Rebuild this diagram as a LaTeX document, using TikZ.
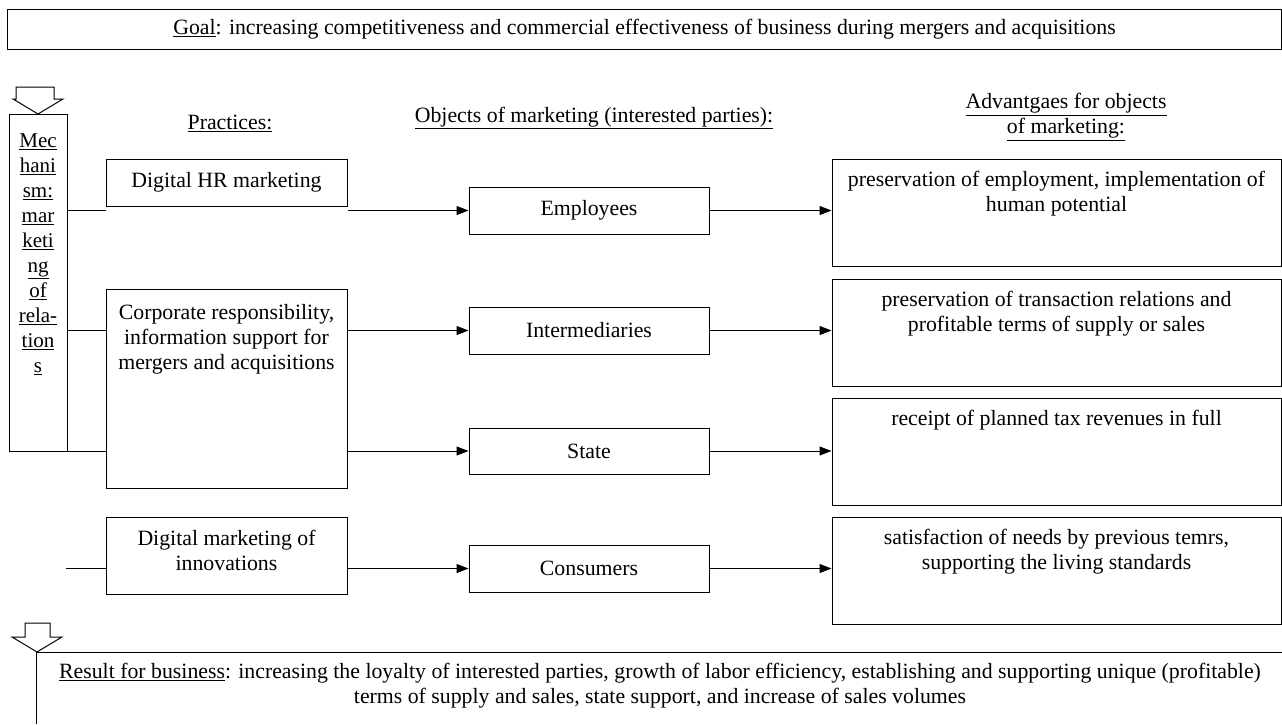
\documentclass[tikz,border=0pt]{standalone}
\usepackage{fontspec}
\setmainfont{Liberation Serif}
\usetikzlibrary{arrows.meta,calc}
\begin{document}
\begin{tikzpicture}[x=1pt,y=-1pt,line width=1pt,
  every node/.style={font=\fontsize{21.8}{25}\selectfont,inner sep=0pt},
  box/.style={draw,line width=1pt},
  arr/.style={-{Triangle[length=12pt,width=9pt]}},
  hollow/.style={draw,line width=1pt,fill=white,line join=miter}]
\useasboundingbox (0,0) rectangle (1282,724);

% goal
\node[box,minimum width=1274pt,minimum height=40pt] (goal) at (644.5,29)
  {\underline{Goal}: increasing competitiveness and commercial effectiveness of business during mergers and acquisitions};

% headers
\node (hprac) at (230,123) {\underline{Practices:}};
\node (hobj) at (594,118) {\underline{Objects of marketing (interested parties):}};
\node[align=center] (hadv) at (1066,117) {\underline{Advantgaes for objects}\\\underline{of marketing:}};

% mechanism
\node[box,minimum width=58pt,minimum height=337pt] (mech) at (38,282.5) {};
\node[anchor=north,align=center,font=\fontsize{21}{25}\selectfont] (mecht) at ($(mech.north)+(0,20)$)
  {\underline{Mec}\\\underline{hani}\\\underline{sm:}\\\underline{mar}\\\underline{keti}\\\underline{ng}\\\underline{of}\\\underline{rela-}\\\underline{tion}\\\underline{s}};
\draw[hollow] (16,87) -- (54,87) -- (54,99) -- (63,99) -- (38,114) -- (13,99) -- (16,99) -- cycle;

% practices
\node[box,minimum width=241pt,minimum height=47pt] (hr) at (226.5,182.5) {Digital HR marketing};
\node[box,minimum width=241pt,minimum height=199pt] (corp) at (226.5,388.5) {};
\node[anchor=north,align=center] (corpt) at ($(corp.north)+(0,15)$)
  {Corporate responsibility,\\information support for\\mergers and acquisitions};
\node[box,minimum width=241pt,minimum height=77pt] (innov) at (226.5,555.5) {};
\node[align=center] (innovt) at (226.5,550) {Digital marketing of\\innovations};

% objects
\node[box,minimum width=240pt,minimum height=47pt] (emp) at (589,210.5) {Employees};
\node[box,minimum width=240pt,minimum height=47pt] (inter) at (589,330.5) {Intermediaries};
\node[box,minimum width=240pt,minimum height=46pt] (state) at (589,451) {State};
\node[box,minimum width=240pt,minimum height=47pt] (cons) at (589,568.5) {Consumers};

% advantages
\node[box,minimum width=449pt,minimum height=107pt] (adv1) at (1056.5,212.5) {};
\node[box,minimum width=449pt,minimum height=107pt] (adv2) at (1056.5,332.5) {};
\node[box,minimum width=449pt,minimum height=107pt] (adv3) at (1056.5,451.5) {};
\node[box,minimum width=449pt,minimum height=107pt] (adv4) at (1056.5,570.5) {};
\node[anchor=north,align=center] (adv1t) at ($(adv1.north)+(0,12)$)
  {preservation of employment, implementation of\\human potential};
\node[anchor=north,align=center] (adv2t) at ($(adv2.north)+(0,12)$)
  {preservation of transaction relations and\\profitable terms of supply or sales};
\node[anchor=north,align=center] (adv3t) at ($(adv3.north)+(0,12)$)
  {receipt of planned tax revenues in full};
\node[anchor=north,align=center] (adv4t) at ($(adv4.north)+(0,12)$)
  {satisfaction of needs by previous temrs,\\supporting the living standards};

% connectors
\draw (mech.east |- emp) -- (hr.west |- emp);
\draw[arr] (hr.east |- emp) -- (emp.west);
\draw (mech.east |- inter) -- (corp.west |- inter);
\draw[arr] (corp.east |- inter) -- (inter.west);
\draw (mech.east |- state) -- (corp.west |- state);
\draw[arr] (corp.east |- state) -- (state.west);
\coordinate (cin) at (66,568.5);
\draw (cin) -- (innov.west |- cons);
\draw[arr] (innov.east |- cons) -- (cons.west);
\draw[arr] (emp.east) -- (emp.east -| adv1.west);
\draw[arr] (inter.east) -- (inter.east -| adv2.west);
\draw[arr] (state.east) -- (state.east -| adv3.west);
\draw[arr] (cons.east) -- (cons.east -| adv4.west);

% result
\coordinate (rtl) at (36,652);
\draw (1282,652) -- (rtl) -- (36,724);
\draw[hollow] (25,623) -- (50,623) -- (50,637) -- (62,637) -- (37,652) -- (12,637) -- (25,637) -- cycle;
\node[align=center] (res) at (660,686)
  {\underline{Result for business}: increasing the loyalty of interested parties, growth of labor efficiency, establishing and supporting unique (profitable)\\terms of supply and sales, state support, and increase of sales volumes};
\end{tikzpicture}
\end{document}
